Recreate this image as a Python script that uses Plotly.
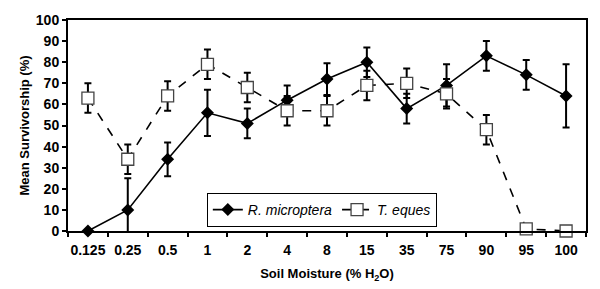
import plotly.graph_objects as go

categories = ["0.125", "0.25", "0.5", "1", "2", "4", "8", "15", "35", "75", "90", "95", "100"]
r_micro = [0, 10, 34, 56, 51, 62, 72, 80, 58, 69, 83, 74, 64]
r_micro_err = [0, 15, 8, 11, 7, 7, 7.5, 7, 7, 10, 7, 7, 15]
t_eques = [63, 34, 64, 79, 68, 57, 57, 69, 70, 65, 48, 1, 0]
t_eques_err = [7, 7, 7, 7, 7, 7, 7, 7, 7, 7, 7, 0, 0]

font_family = "Liberation Sans, Arial, sans-serif"

fig = go.Figure()
fig.add_trace(go.Scatter(
    x=categories, y=r_micro, name="<i>R. microptera</i>", mode="lines+markers",
    line=dict(color="black", width=1.6),
    marker=dict(symbol="diamond", size=10, color="black"),
    error_y=dict(type="data", array=r_micro_err, visible=True, color="black", thickness=2, width=3.5),
    cliponaxis=False,
))
fig.add_trace(go.Scatter(
    x=categories, y=t_eques, name="<i>T. eques</i>", mode="lines+markers",
    line=dict(color="black", width=1.6, dash="dash"),
    marker=dict(symbol="square", size=12, color="white", line=dict(color="#444", width=1.3)),
    error_y=dict(type="data", array=t_eques_err, visible=True, color="black", thickness=2, width=3.5),
    cliponaxis=False,
))

# page body has an 8px default margin, so the figure is sized to compensate
fig.update_layout(
    width=592, height=281,
    margin=dict(l=60, r=14, t=12, b=58),
    paper_bgcolor="white", plot_bgcolor="white",
    font=dict(family=font_family, color="black", size=12),
    showlegend=True,
    legend=dict(orientation="h", x=0.268, y=0.18, xanchor="left", yanchor="top",
                bordercolor="black", borderwidth=1, bgcolor="white",
                font=dict(size=14, family=font_family)),
    xaxis=dict(
        type="category", range=[-0.5, 12.5], tickson="boundaries",
        ticks="outside", ticklen=4, tickwidth=2, tickcolor="black", tickangle=0,
        showline=True, linecolor="black", linewidth=2, mirror=True,
        showgrid=False, zeroline=False, automargin=False,
        tickfont=dict(size=14, weight="bold"), ticklabelstandoff=5,
        title=dict(text="Soil Moisture (% H<sub>2</sub>O)", font=dict(size=13, weight="bold"), standoff=12),
    ),
    yaxis=dict(
        range=[0, 100], dtick=10, tick0=0,
        ticks="outside", ticklen=4, tickwidth=2, tickcolor="black",
        showline=True, linecolor="black", linewidth=2, mirror=True,
        showgrid=False, zeroline=False, automargin=False,
        tickfont=dict(size=14, weight="bold"),
        title=dict(text="Mean Survivorship (%)", font=dict(size=13, weight="bold"), standoff=3),
    ),
)

fig.write_html("out.html")
